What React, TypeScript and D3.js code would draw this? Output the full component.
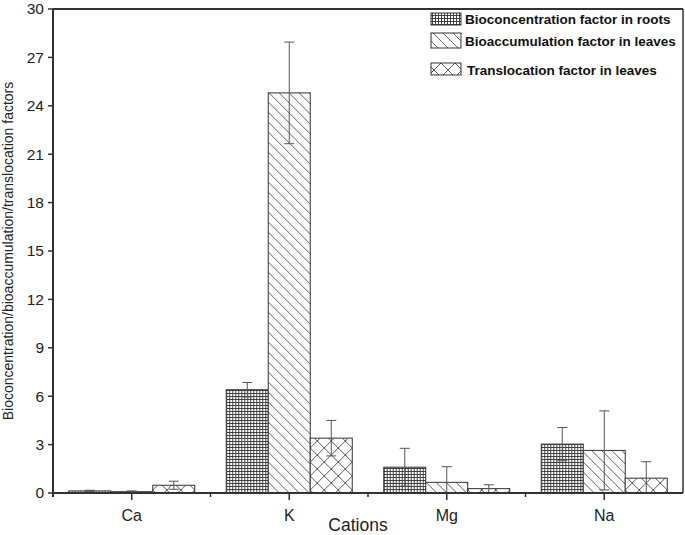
import React from 'react';
import * as d3 from 'd3';

// data
const cations = ['Ca', 'K', 'Mg', 'Na'];
const seriesNames = [
  'Bioconcentration factor in roots',
  'Bioaccumulation factor in leaves',
  'Translocation factor in leaves',
];
const rootsBCF = [0.13, 6.4, 1.6, 3.03];
const rootsErr = [0.04, 0.45, 1.17, 1.03];
const leavesBAF = [0.08, 24.8, 0.66, 2.64];
const leavesErr = [0.05, 3.15, 0.97, 2.45];
const leavesTF = [0.48, 3.4, 0.27, 0.92];
const tfErr = [0.25, 1.1, 0.24, 1.02];
const yTicks = [0, 3, 6, 9, 12, 15, 18, 21, 24, 27, 30];

const values = [rootsBCF, leavesBAF, leavesTF];
const errors = [rootsErr, leavesErr, tfErr];
const patternIds = ['pRoots', 'pLeaves', 'pTf'];

const W = 685;
const H = 535;
const left = 53, right = 683, top = 9, bottom = 493;
const font = 'Liberation Sans, Arial, sans-serif';

export default function App() {
  const x = d3.scaleBand<string>().domain(cations).range([left, right]).paddingInner(0.2).paddingOuter(0.1);
  const xs = d3.scaleBand<number>().domain([0, 1, 2]).range([0, x.bandwidth()]);
  const y = d3.scaleLinear().domain([0, 30]).range([bottom, top]);
  const step = x.step();

  return (
    <svg width={W} height={H} style={{ position: 'absolute', left: 0, top: 0, background: '#fff' }} fontFamily={font}>
      <defs>
        <pattern id="pRoots" width={3} height={3} patternUnits="userSpaceOnUse">
          <rect width={3} height={3} fill="#fff" />
          <path d="M0,0.5H3M0.5,0V3" stroke="#333" strokeWidth={0.9} />
        </pattern>
        <pattern id="pLeaves" width={10} height={10} patternUnits="userSpaceOnUse">
          <rect width={10} height={10} fill="#fbfbfb" />
          <path d="M-1,-1L11,11M-6,4L6,16M4,-6L16,6" stroke="#555" strokeWidth={0.9} />
        </pattern>
        <pattern id="pTf" width={14} height={14} patternUnits="userSpaceOnUse">
          <rect width={14} height={14} fill="#fff" />
          <path d="M0,0L14,14M14,0L0,14" stroke="#444" strokeWidth={0.9} />
        </pattern>
      </defs>

      {/* bars */}
      {cations.map((c, i) => (
        <g key={c} transform={`translate(${x(c)},0)`}>
          {values.map((vals, s) => (
            <rect
              key={s}
              x={xs(s)}
              y={y(vals[i])}
              width={xs.bandwidth()}
              height={y(0) - y(vals[i])}
              fill={`url(#${patternIds[s]})`}
              stroke="#333"
              strokeWidth={1}
            />
          ))}
          {values.map((vals, s) => {
            const cx = (xs(s) as number) + xs.bandwidth() / 2;
            const hi = y(vals[i] + errors[s][i]);
            const lo = y(Math.max(0, vals[i] - errors[s][i]));
            return (
              <g key={'e' + s} stroke="#555" strokeWidth={1}>
                <line x1={cx} x2={cx} y1={hi} y2={lo} />
                <line x1={cx - 5} x2={cx + 5} y1={hi} y2={hi} />
                <line x1={cx - 5} x2={cx + 5} y1={lo} y2={lo} />
              </g>
            );
          })}
        </g>
      ))}

      {/* frame */}
      <line x1={left} x2={right} y1={top} y2={top} stroke="#333" strokeWidth={2} />
      <line x1={right} x2={right} y1={top} y2={bottom} stroke="#333" strokeWidth={1.5} />
      <line x1={left} x2={left} y1={top} y2={bottom + 4} stroke="#333" strokeWidth={2} />
      <line x1={left} x2={right} y1={bottom} y2={bottom} stroke="#333" strokeWidth={2} />

      {/* y axis */}
      {yTicks.map((t) => (
        <g key={t}>
          <line x1={left - 5} x2={left} y1={y(t)} y2={y(t)} stroke="#333" strokeWidth={1.5} />
          <text x={left - 9} y={y(t)} dy="0.35em" textAnchor="end" fontSize={15.5} fill="#222">
            {t}
          </text>
        </g>
      ))}
      <text
        transform={`translate(13,${(top + bottom) / 2}) rotate(-90)`}
        textAnchor="middle"
        fontSize={14}
        fill="#222"
      >
        Bioconcentration/bioaccumulation/translocation factors
      </text>

      {/* x axis */}
      {cations.map((c, i) => {
        const cx = (x(c) as number) + x.bandwidth() / 2;
        return (
          <g key={c}>
            <line x1={cx} x2={cx} y1={bottom} y2={bottom + 7} stroke="#333" strokeWidth={1.5} />
            {i > 0 && (
              <line x1={cx - step / 2} x2={cx - step / 2} y1={bottom} y2={bottom + 4} stroke="#333" strokeWidth={1.5} />
            )}
            <text x={cx} y={521} textAnchor="middle" fontSize={16} fill="#222">
              {c}
            </text>
          </g>
        );
      })}
      <text x={358} y={531} textAnchor="middle" fontSize={17.5} fill="#222">
        Cations
      </text>

      {/* legend */}
      {seriesNames.map((name, s) => {
        const ly = [13, 33, 63][s];
        const lh = [12, 15, 12][s];
        const ty = [24, 46, 75][s];
        return (
          <g key={name}>
            <rect x={431} y={ly} width={30} height={lh} fill={`url(#${patternIds[s]})`} stroke="#333" strokeWidth={1} />
            <text x={s === 2 ? 467 : 465} y={ty} fontSize={13.5} fontWeight="bold" fill="#111">
              {name}
            </text>
          </g>
        );
      })}
    </svg>
  );
}
